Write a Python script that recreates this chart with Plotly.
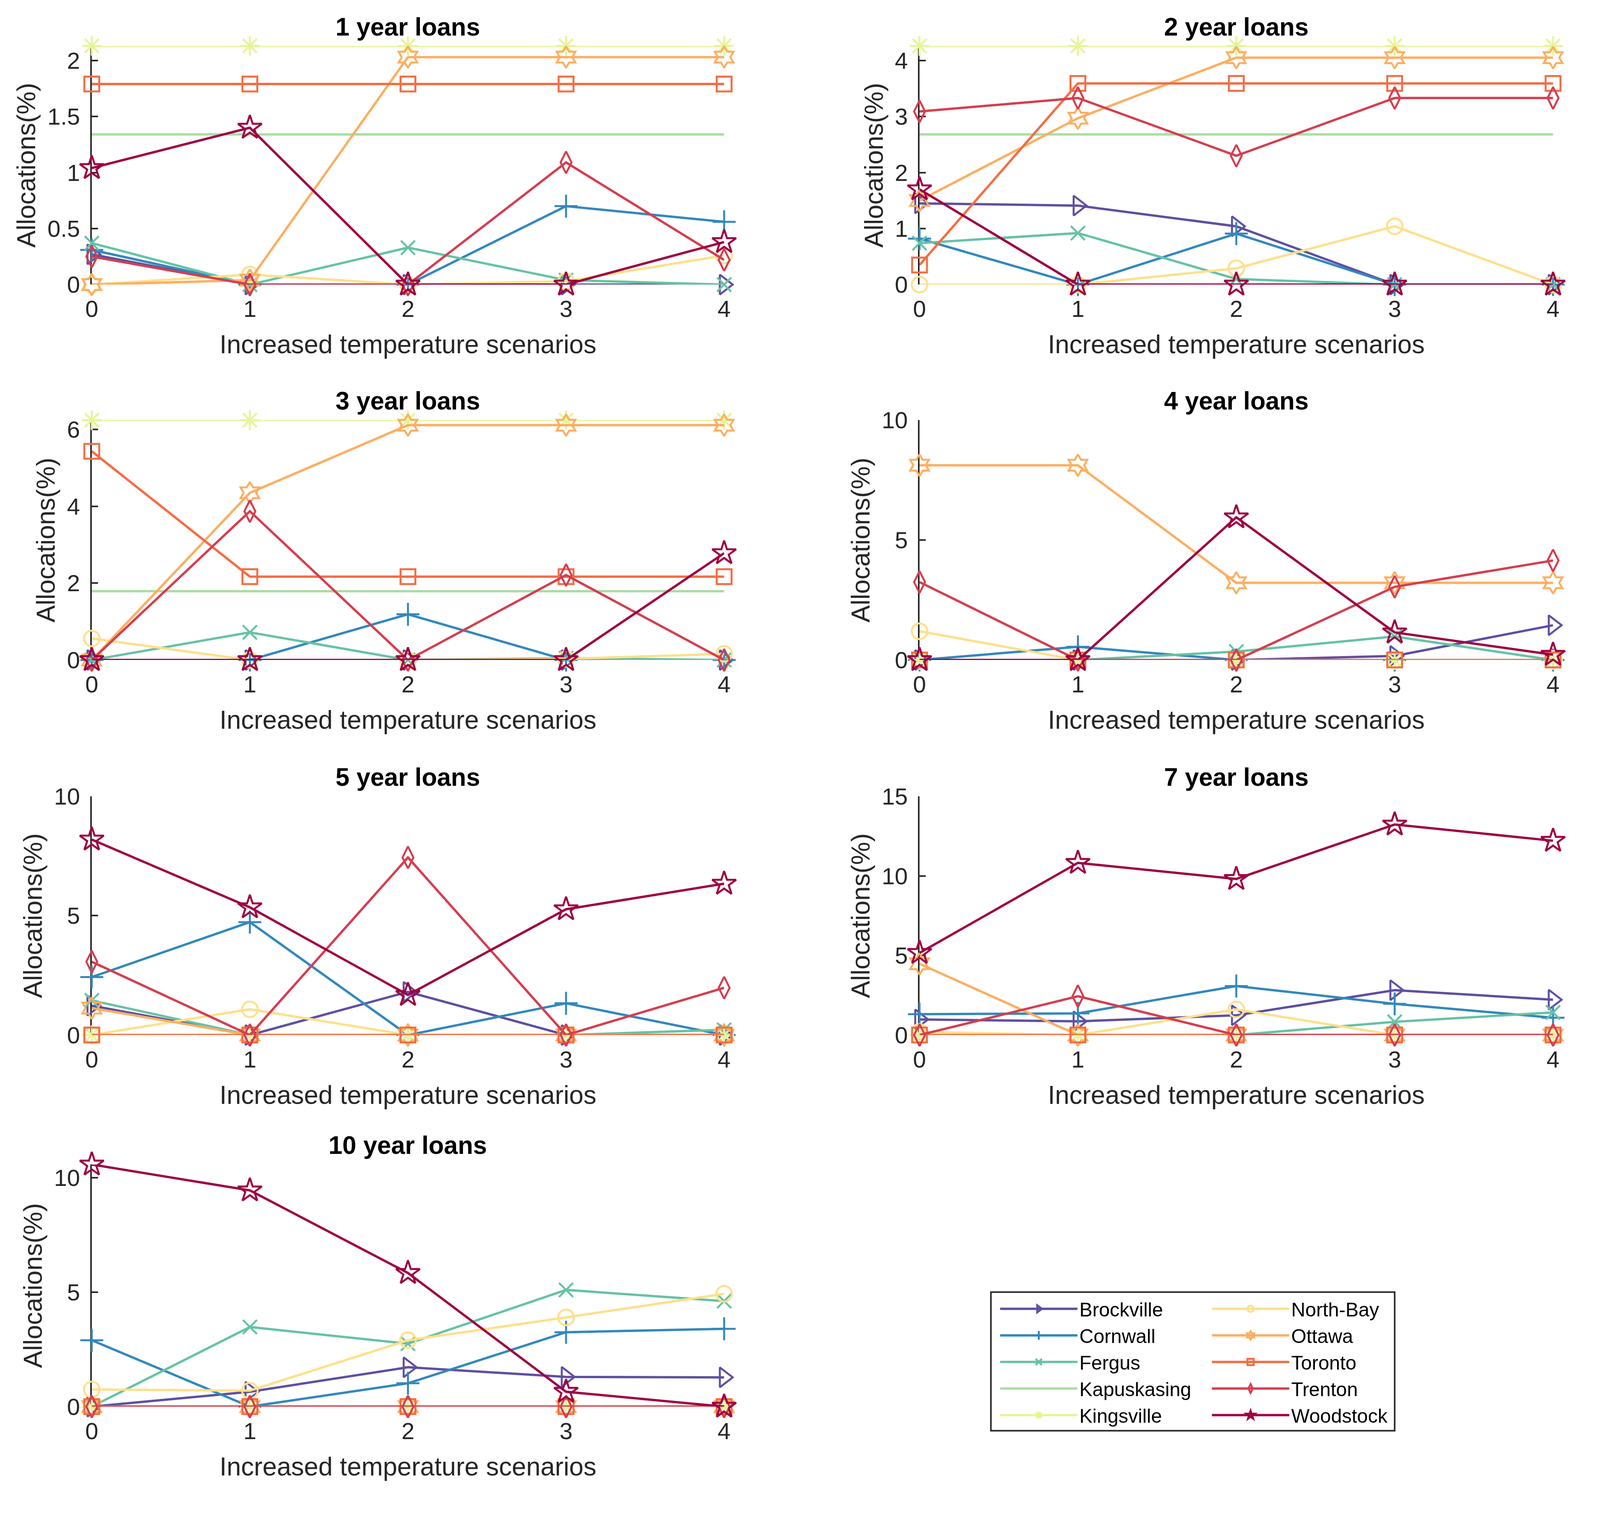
import plotly.graph_objects as go

W, H = 4176, 3913

scenarios = [0, 1, 2, 3, 4]
cities = ["Brockville", "Cornwall", "Fergus", "Kapuskasing", "Kingsville",
          "North-Bay", "Ottawa", "Toronto", "Trenton", "Woodstock"]
colors = ["#5e4fa2", "#3288bd", "#66c2a5", "#abdda4", "#e6f598",
          "#fee08b", "#fdae61", "#f46d43", "#d53e4f", "#9e0142"]
symbols = ["triangle-right-open", "cross-thin-open", "x-thin-open", None, "asterisk-open",
           "circle-open", "hexagram-open", "square-open", "diamond-tall-open", "star-open"]
marker_sizes = [44, 42, 36, 0, 42, 40, 42, 38, 40, 46]

panel_titles = ["1 year loans", "2 year loans", "3 year loans", "4 year loans",
                "5 year loans", "7 year loans", "10 year loans"]
y_max = [2.13, 4.26, 6.24, 10, 10, 15, 10.58]
y_step = [0.5, 1, 2, 5, 5, 5, 5]

# rows: Brockville, Cornwall, Fergus, Kapuskasing, Kingsville, North-Bay, Ottawa, Toronto, Trenton, Woodstock
alloc_1yr = [
    [0.27, 0, 0, 0, 0],
    [0.31, 0, 0, 0.70, 0.56],
    [0.37, 0, 0.33, 0.04, 0],
    [1.34, 1.34, 1.34, 1.34, 1.34],
    [2.13, 2.13, 2.13, 2.13, 2.13],
    [0, 0.09, 0, 0.03, 0.26],
    [0, 0.04, 2.03, 2.03, 2.03],
    [1.79, 1.79, 1.79, 1.79, 1.79],
    [0.25, 0, 0, 1.09, 0.22],
    [1.04, 1.40, 0, 0, 0.38],
]
alloc_2yr = [
    [1.45, 1.41, 1.04, 0, 0],
    [0.82, 0, 0.91, 0, 0],
    [0.74, 0.92, 0.10, 0, 0],
    [2.68, 2.68, 2.68, 2.68, 2.68],
    [4.26, 4.26, 4.26, 4.26, 4.26],
    [0, 0, 0.29, 1.04, 0],
    [1.50, 2.97, 4.05, 4.05, 4.05],
    [0.35, 3.59, 3.59, 3.59, 3.59],
    [3.09, 3.33, 2.30, 3.33, 3.33],
    [1.70, 0, 0, 0, 0],
]
alloc_3yr = [
    [0, 0, 0, 0, 0],
    [0, 0, 1.19, 0, 0],
    [0, 0.72, 0, 0.05, 0],
    [1.79, 1.79, 1.79, 1.79, 1.79],
    [6.24, 6.24, 6.24, 6.24, 6.24],
    [0.56, 0, 0, 0.03, 0.16],
    [0, 4.35, 6.11, 6.11, 6.11],
    [5.43, 2.17, 2.17, 2.17, 2.17],
    [0, 3.87, 0, 2.21, 0],
    [0, 0, 0, 0, 2.78],
]
alloc_4yr = [
    [0, 0, 0, 0.17, 1.45],
    [0, 0.55, 0, 0, 0],
    [0, 0, 0.35, 0.98, 0],
    [0, 0, 0, 0, 0],
    [0, 0, 0, 0, 0],
    [1.20, 0, 0, 0, 0],
    [8.12, 8.12, 3.22, 3.22, 3.22],
    [0, 0, 0, 0, 0],
    [3.25, 0, 0, 3.05, 4.15],
    [0, 0, 5.95, 1.15, 0.22],
]
alloc_5yr = [
    [1.23, 0, 1.81, 0, 0],
    [2.43, 4.73, 0, 1.33, 0],
    [1.45, 0, 0, 0, 0.22],
    [0, 0, 0, 0, 0],
    [0, 0, 0, 0, 0],
    [0, 1.08, 0, 0, 0],
    [1.13, 0, 0, 0, 0],
    [0, 0, 0, 0, 0],
    [3.07, 0, 7.44, 0, 1.98],
    [8.19, 5.35, 1.68, 5.27, 6.34],
]
alloc_7yr = [
    [0.98, 0.86, 1.24, 2.82, 2.22],
    [1.31, 1.36, 3.08, 1.96, 1.09],
    [0, 0, 0, 0.83, 1.42],
    [0, 0, 0, 0, 0],
    [0, 0, 0, 0, 0],
    [0.20, 0, 1.61, 0, 0],
    [4.48, 0, 0, 0, 0],
    [0, 0, 0, 0, 0],
    [0, 2.44, 0, 0, 0],
    [5.16, 10.82, 9.81, 13.23, 12.21],
]
alloc_10yr = [
    [0, 0.65, 1.72, 1.30, 1.28],
    [2.90, 0, 1.02, 3.25, 3.40],
    [0, 3.48, 2.75, 5.10, 4.61],
    [0, 0, 0, 0, 0],
    [0, 0, 0, 0, 0],
    [0.75, 0.70, 2.90, 3.90, 4.93],
    [0, 0, 0, 0, 0],
    [0, 0, 0, 0, 0],
    [0, 0, 0, 0, 0],
    [10.58, 9.45, 5.84, 0.65, 0],
]
panels = [alloc_1yr, alloc_2yr, alloc_3yr, alloc_4yr, alloc_5yr, alloc_7yr, alloc_10yr]


# ---- layout geometry: reference pixel positions -> paper fractions ----
def px(x):
    return (0.985 * x - 14.7) / W


def py(y):
    return 1 - (0.9944 * y - 32.4) / H


col_px = [(238, 1895), (2407, 4067)]
row_px = [(119, 744), (1099, 1727), (2084, 2709), (3048, 3682)]
col_dom = [[px(a), px(b)] for (a, b) in col_px]
row_dom = [[py(b), py(t)] for (t, b) in row_px]

FONT = "Liberation Sans, Arial, sans-serif"
AX_COLOR = "#262626"

fig = go.Figure()
layout = dict(
    width=W, height=H,
    margin=dict(l=0, r=0, t=0, b=0),
    paper_bgcolor="white", plot_bgcolor="white",
    font=dict(family=FONT, size=60, color=AX_COLOR),
    showlegend=True,
    annotations=[], shapes=[],
)

for p, data in enumerate(panels):
    r, c = divmod(p, 2)
    k = "" if p == 0 else str(p + 1)
    xa, ya = "x" + k, "y" + k
    layout["xaxis" + k] = dict(
        domain=col_dom[c], anchor=ya, range=[0, 4], tickvals=scenarios,
        showline=False, zeroline=False, showgrid=False, ticks="",
        tickfont=dict(size=60, color=AX_COLOR), ticklabelstandoff=22,
        automargin=True,
        title=dict(text="Increased temperature scenarios", standoff=34,
                   font=dict(size=66, color=AX_COLOR)),
    )
    layout["yaxis" + k] = dict(
        domain=row_dom[r], anchor=xa, range=[0, y_max[p]], dtick=y_step[p], tick0=0,
        showline=True, linecolor=AX_COLOR, linewidth=4, zeroline=False, showgrid=False,
        ticks="inside", ticklen=16, tickwidth=4, tickcolor=AX_COLOR,
        tickfont=dict(size=60, color=AX_COLOR), ticklabelstandoff=14,
        layer="below traces", automargin=True,
        title=dict(text="Allocations(%)", standoff=10,
                   font=dict(size=66, color=AX_COLOR)),
    )
    layout["annotations"].append(dict(
        text=panel_titles[p], xref="paper", yref="paper",
        x=(col_dom[c][0] + col_dom[c][1]) / 2, y=py(row_px[r][0] - 50),
        xanchor="center", yanchor="middle", showarrow=False,
        font=dict(family=FONT, size=64, color="black", weight=700),
    ))
    for i, city in enumerate(cities):
        sym = symbols[i]
        tr = dict(
            x=scenarios, y=data[i], xaxis=xa, yaxis=ya, name=city,
            legendgroup=city, showlegend=(p == 0),
            legend="legend" if i < 5 else "legend2",
            line=dict(color=colors[i], width=6),
            cliponaxis=False, hoverinfo="skip",
        )
        if sym is None:
            tr["mode"] = "lines"
        else:
            tr["mode"] = "lines+markers"
            tr["marker"] = dict(symbol=sym, size=marker_sizes[i], color=colors[i],
                                line=dict(color=colors[i], width=5))
        fig.add_trace(go.Scatter(**tr))

# legend (two columns as two legends inside one box)
box_l, box_r, box_t, box_b = 2594, 3652, 3382, 3745
leg_common = dict(
    orientation="v", yanchor="top", xanchor="left",
    font=dict(family=FONT, size=50, color="black"),
    bgcolor="rgba(0,0,0,0)", borderwidth=0,
    itemwidth=198, tracegroupgap=0, traceorder="grouped",
)
layout["legend"] = dict(leg_common, x=px(box_l + 19), y=py(box_t + 4))
layout["legend2"] = dict(leg_common, x=px(box_l + 19 + 555), y=py(box_t + 4))
layout["shapes"].append(dict(
    type="rect", xref="paper", yref="paper",
    x0=px(box_l), x1=px(box_r), y0=py(box_b), y1=py(box_t),
    line=dict(color=AX_COLOR, width=4), fillcolor="rgba(0,0,0,0)", layer="below",
))

fig.update_layout(**layout)
fig.write_html("out.html", config={"displayModeBar": False},
               post_script="document.body.style.margin='0px';"
                           "document.documentElement.style.overflow='hidden';")
